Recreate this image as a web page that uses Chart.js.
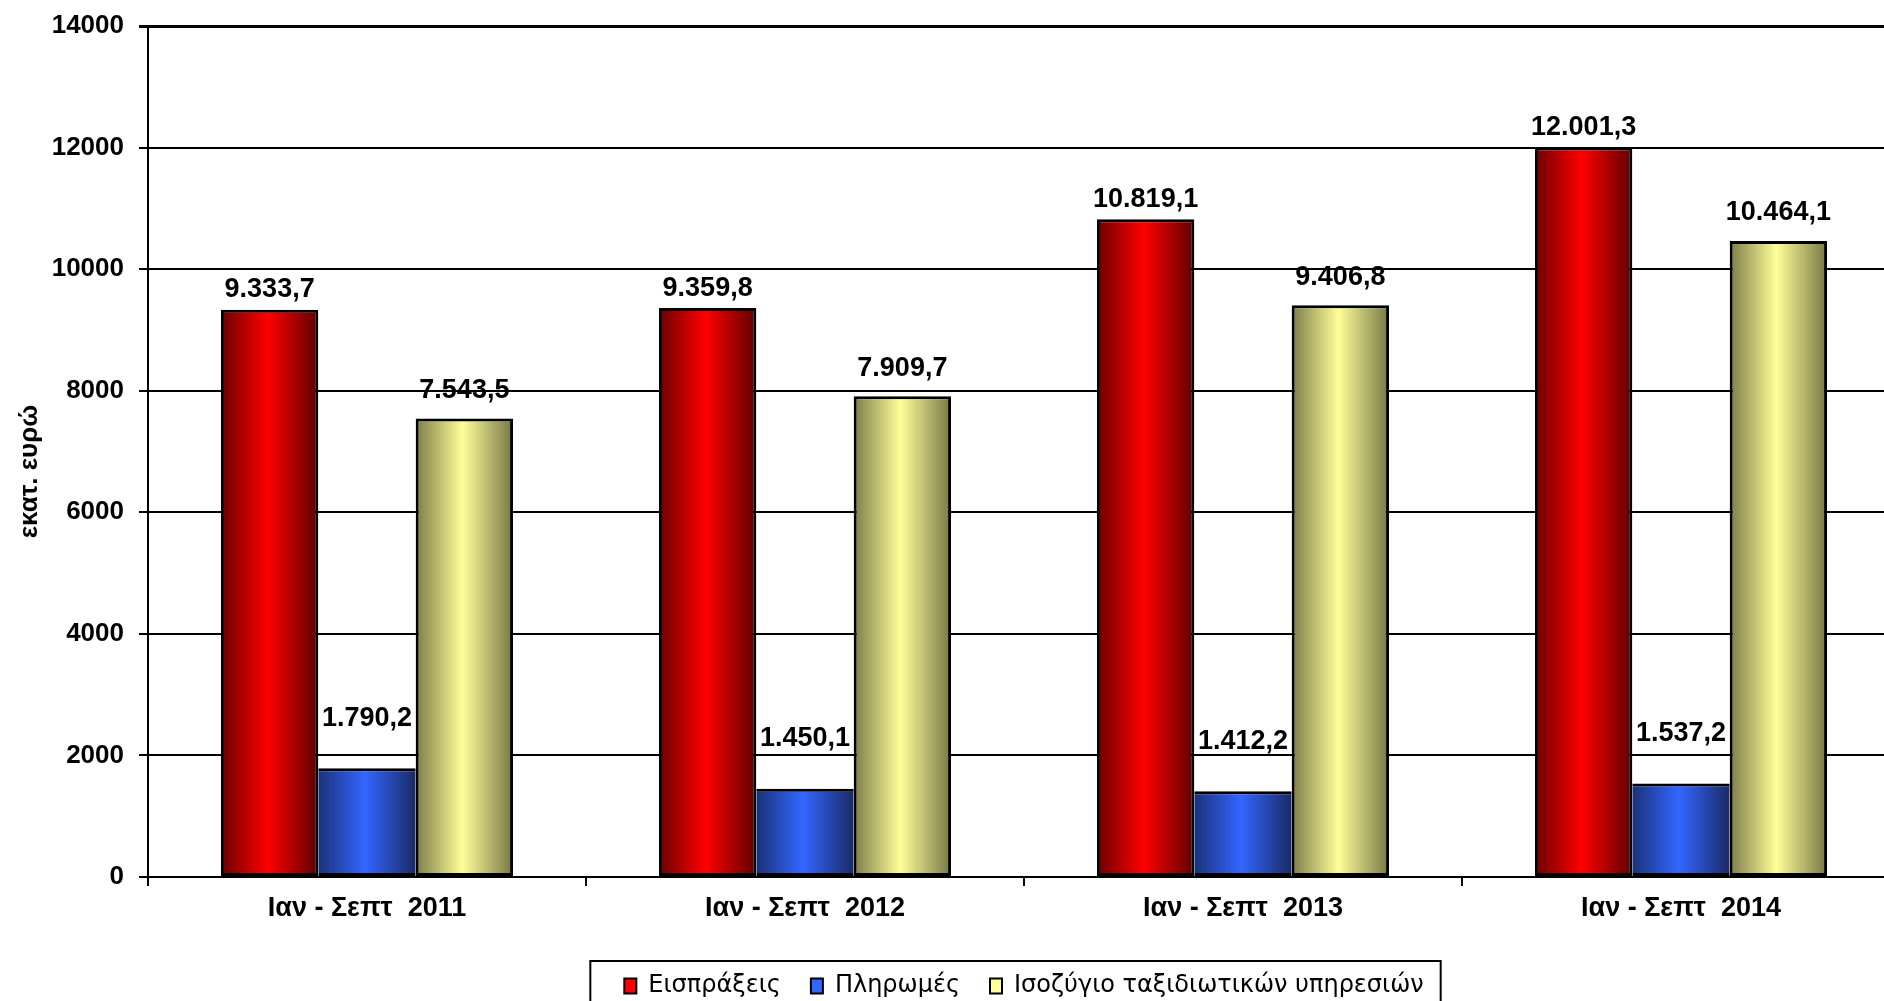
<!DOCTYPE html>
<html>
<head>
    <meta charset="utf-8">
    <title>Ταξιδιωτικές υπηρεσίες Ιαν - Σεπτ</title>
    <script src="https://cdn.jsdelivr.net/npm/chart.js"></script>
    <style>
        html, body {
            margin: 0;
            padding: 0;
            background: #fff;
            overflow: hidden;
        }
        #wrap {
            width: 1900px;
            height: 1008px;
        }
    </style>
</head>
<body>
    <div id="wrap"><canvas id="chart" width="1900" height="1008"></canvas></div>

    <script>
        // data
        var periods = ['Ιαν - Σεπτ  2011', 'Ιαν - Σεπτ  2012', 'Ιαν - Σεπτ  2013', 'Ιαν - Σεπτ  2014'];
        var receipts = [9333.7, 9359.8, 10819.1, 12001.3];
        var payments = [1790.2, 1450.1, 1412.2, 1537.2];
        var balance = [7543.5, 7909.7, 9406.8, 10464.1];
        var seriesNames = ['Εισπράξεις', 'Πληρωμές', 'Ισοζύγιο ταξιδιωτικών υπηρεσιών'];
        var yMin = 0, yMax = 14000, yStep = 2000;
        var yTitle = 'εκατ. ευρώ';

        var FONT = '"Liberation Sans", Arial, sans-serif';

        // edge / centre / edge colours of the shaded bars
        var barShades = [
            ['#6a0000', '#ff0000', '#5e0000'],
            ['#1b3177', '#3366ff', '#192a66'],
            ['#7c7c4a', '#ffff99', '#777746']
        ];
        var legendFill = ['#ff0000', '#3366ff', '#ffff99'];
        var labelLift = [20, 50, 28];

        // 9333.7 -> "9.333,7"
        function greek(v) {
            var parts = v.toFixed(1).split('.');
            return parts[0].replace(/\B(?=(\d{3})+(?!\d))/g, '.') + ',' + parts[1];
        }

        // horizontal gradient on each bar
        var shading = {
            id: 'shading',
            beforeDatasetDraw: function(chart, args) {
                var ctx = chart.ctx;
                var stops = barShades[args.index];
                args.meta.data.forEach(function(bar) {
                    var g = ctx.createLinearGradient(bar.x - bar.width / 2, 0, bar.x + bar.width / 2, 0);
                    g.addColorStop(0, stops[0]);
                    g.addColorStop(0.48, stops[1]);
                    g.addColorStop(1, stops[2]);
                    bar.options = Object.assign({}, bar.options, { backgroundColor: g });
                });
            }
        };

        function drawLabels(chart, i) {
            var ctx = chart.ctx;
            var meta = chart.getDatasetMeta(i);
            var values = chart.data.datasets[i].data;
            ctx.save();
            ctx.font = 'bold 27px ' + FONT;
            ctx.fillStyle = '#000';
            ctx.textAlign = 'center';
            ctx.textBaseline = 'middle';
            meta.data.forEach(function(bar, j) {
                ctx.fillText(greek(values[j]), bar.x, bar.y - labelLift[i]);
            });
            ctx.restore();
        }

        // payments labels go under the bars (the balance bar hides part of them)
        var valueLabels = {
            id: 'valueLabels',
            beforeDatasetsDraw: function(chart) { drawLabels(chart, 1); },
            afterDatasetsDraw: function(chart) {
                drawLabels(chart, 0);
                drawLabels(chart, 2);
            }
        };

        // rotated axis title and the frame round the legend
        var extras = {
            id: 'extras',
            afterDraw: function(chart) {
                var ctx = chart.ctx;
                var area = chart.chartArea;
                ctx.save();
                ctx.translate(30, (area.top + area.bottom) / 2 + 20);
                ctx.rotate(-Math.PI / 2);
                ctx.font = 'bold 26px ' + FONT;
                ctx.fillStyle = '#000';
                ctx.textAlign = 'center';
                ctx.textBaseline = 'middle';
                ctx.fillText(yTitle, 0, 0);
                ctx.restore();

                var hb = chart.legend.legendHitBoxes;
                if (!hb || !hb.length) return;
                var first = hb[0], last = hb[hb.length - 1];
                var left = first.left - 34;
                var right = last.left + last.width + 17;
                var top = first.top + first.height / 2 - 25;
                ctx.save();
                ctx.strokeStyle = '#000';
                ctx.lineWidth = 2;
                ctx.strokeRect(left, top, right - left, chart.height - top + 10);
                ctx.restore();
            }
        };

        var ctx = document.getElementById('chart').getContext('2d');
        var chart = new Chart(ctx, {
            type: 'bar',
            data: {
                labels: periods,
                datasets: [{
                    label: seriesNames[0],
                    data: receipts,
                    backgroundColor: legendFill[0],
                    borderColor: '#000',
                    borderWidth: 3,
                    borderSkipped: false
                }, {
                    label: seriesNames[1],
                    data: payments,
                    backgroundColor: legendFill[1],
                    borderColor: '#000',
                    borderWidth: { top: 3, bottom: 3, left: 0, right: 0 },
                    borderSkipped: false
                }, {
                    label: seriesNames[2],
                    data: balance,
                    backgroundColor: legendFill[2],
                    borderColor: '#000',
                    borderWidth: 3,
                    borderSkipped: false
                }]
            },
            options: {
                responsive: false,
                devicePixelRatio: 1,
                animation: false,
                categoryPercentage: 0.667,
                barPercentage: 1.0,
                layout: {
                    padding: { top: 26, left: 0, right: 0, bottom: 0 }
                },
                plugins: {
                    tooltip: { enabled: false },
                    legend: {
                        position: 'bottom',
                        fullSize: false,
                        labels: {
                            color: '#000',
                            font: { family: '"DejaVu Sans", sans-serif', size: 24 },
                            boxWidth: 12,
                            boxHeight: 15,
                            padding: 30,
                            generateLabels: function(chart) {
                                return chart.data.datasets.map(function(d, i) {
                                    return {
                                        text: d.label,
                                        fillStyle: legendFill[i],
                                        strokeStyle: '#000',
                                        lineWidth: 2,
                                        fontColor: '#000',
                                        datasetIndex: i,
                                        hidden: false
                                    };
                                });
                            }
                        }
                    }
                },
                scales: {
                    x: {
                        grid: {
                            display: true,
                            drawOnChartArea: false,
                            drawTicks: true,
                            tickLength: 9,
                            color: '#000',
                            lineWidth: 2
                        },
                        border: { display: true, color: '#000', width: 2 },
                        ticks: {
                            color: '#000',
                            padding: 6,
                            font: { family: FONT, size: 27, weight: 'bold' }
                        },
                        afterFit: function(s) { s.height = 67; }
                    },
                    y: {
                        min: yMin,
                        max: yMax,
                        grid: {
                            color: '#000',
                            lineWidth: function(c) { return c.tick && c.tick.value === yMax ? 3 : 2; },
                            tickLength: 9
                        },
                        border: { display: true, color: '#000', width: 2 },
                        ticks: {
                            stepSize: yStep,
                            color: '#000',
                            padding: 15,
                            font: { family: FONT, size: 26, weight: 'bold' },
                            callback: function(v) { return String(v); }
                        },
                        afterFit: function(s) {
                            s.width = 148;
                            s.paddingTop = 0;
                            s.paddingBottom = 0;
                        }
                    }
                }
            },
            plugins: [shading, valueLabels, extras]
        });
    </script>
</body>
</html>
